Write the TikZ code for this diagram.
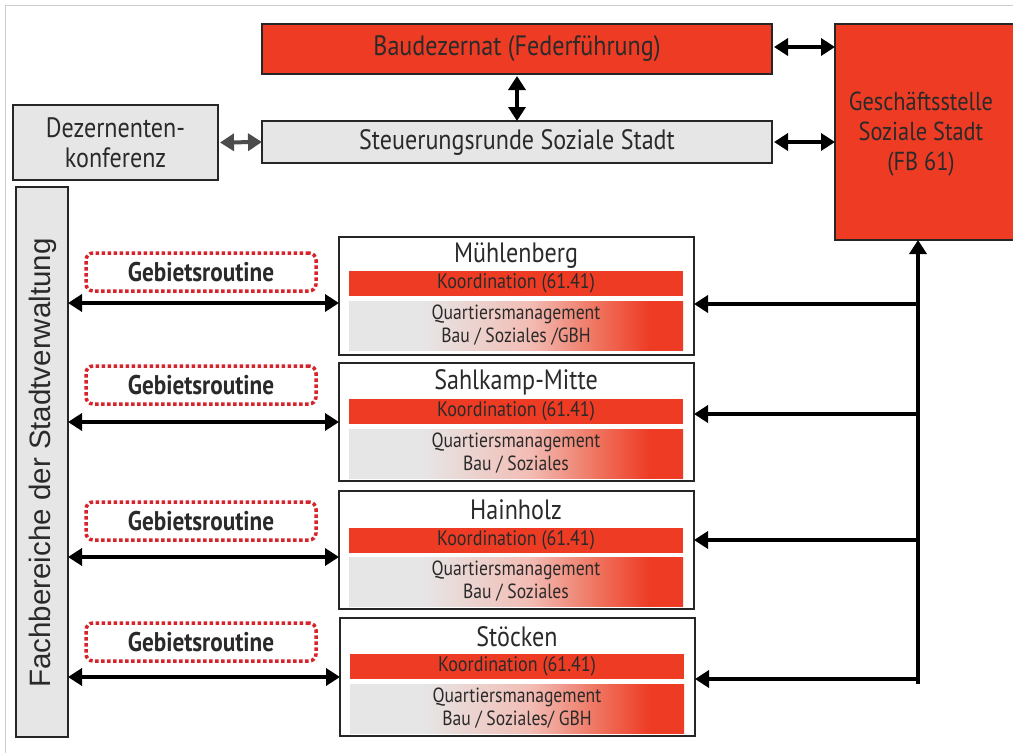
\documentclass[tikz,border=0pt]{standalone}
\usepackage{fontspec}
\setmainfont[FakeStretch=0.86]{PT Sans}
\newfontfamily\arialfont{Liberation Sans}
\usetikzlibrary{arrows.meta}
\definecolor{myred}{HTML}{EE3B24}
\definecolor{mygray}{HTML}{E6E6E6}
\definecolor{dotred}{HTML}{D8232A}
\definecolor{txt}{HTML}{2A2A2A}
\definecolor{pinkmid}{HTML}{F2BDB5}
\definecolor{redmid}{HTML}{EF7460}
\pgfdeclarehorizontalshading{qmshade}{100bp}{color(0bp)=(mygray); color(36bp)=(mygray); color(52bp)=(pinkmid); color(62bp)=(redmid); color(70bp)=(myred); color(100bp)=(myred)}
\tikzset{
  every node/.style={inner sep=0pt, outer sep=0pt, text=txt},
  redbox/.style={draw=black!85, line width=1.3pt, fill=myred},
  graybox/.style={draw=black!85, line width=1.3pt, fill=mygray},
  areabox/.style={draw=black!85, line width=1.8pt, fill=white},
  koord/.style={fill=myred, minimum width=334pt, minimum height=25pt, font=\fontsize{21}{23}\selectfont},
  qmbar/.style={shading=qmshade, minimum width=334pt, minimum height=49pt, align=center, font=\fontsize{20.5}{23}\selectfont},
  areatitle/.style={font=\fontsize{28}{30}\selectfont},
  gebiet/.style={draw=dotred, line width=3.5pt, dash pattern=on 3.5pt off 2.5pt, rounded corners=7pt, fill=white, minimum width=230pt, minimum height=38pt, font=\bfseries\fontsize{27}{30}\selectfont},
  arr/.style={line width=4pt, {Triangle[length=14pt,width=17pt]}-{Triangle[length=14pt,width=17pt]}},
  arrone/.style={line width=4pt, -{Triangle[length=14pt,width=17pt]}},
}
\begin{document}
\begin{tikzpicture}[x=1pt,y=-1pt]
\useasboundingbox (0,0) rectangle (1013,753);
\fill[white] (0,0) rectangle (1013,753);
\draw[black!20, line width=1pt] (5,753) -- (5,5) -- (1013,5);

% top boxes
\node[redbox, minimum width=510pt, minimum height=50pt, font=\fontsize{28}{30}\selectfont] (bau) at (517,49) {Baudezernat (Federführung)};
\node[redbox, anchor=north west, minimum width=182pt, minimum height=216pt] (gs) at (835,24) {};
\node[align=center, font=\fontsize{26}{30}\selectfont] (gstext) at (921,134) {Geschäftsstelle\\Soziale Stadt\\(FB 61)};
\node[graybox, minimum width=510pt, minimum height=42pt, font=\fontsize{28}{30}\selectfont] (steu) at (517,142) {Steuerungsrunde Soziale Stadt};
\node[graybox, minimum width=205pt, minimum height=75pt, align=center, font=\fontsize{28}{30}\selectfont] (dez) at (115.5,142.5) {Dezernenten-\\konferenz};
\node[graybox, minimum width=52pt, minimum height=550pt] (fb) at (42,462) {};
\node[rotate=90, font=\arialfont\fontsize{29.5}{30}\selectfont] (fbtext) at (43,463) {Fachbereiche der Stadtverwaltung};

% top connectors
\draw[arr] (bau.east) ++(2,-2) coordinate (b1) (b1) -- (b1 -| gs.west);
\draw[arr] (steu.east) ++(2,0) coordinate (s1) (s1) -- (s1 -| gs.west);
\draw[arr] (bau.south) ++(0,2) coordinate (b2) (b2) -- (steu.north);
\draw[arr, black!70] (dez.east) ++(2,0) coordinate (d1) (d1) -- (steu.west);

% area boxes
\node[areabox, anchor=north west, minimum width=355pt, minimum height=118pt] (a1) at (339,237) {};
\node[areatitle] (t1) at (516,256) {Mühlenberg};
\node[koord, anchor=north] (k1) at (516,271) {Koordination (61.41)};
\node[qmbar, anchor=north] (q1) at (516,301) {Quartiersmanagement\\Bau / Soziales /GBH};

\node[areabox, anchor=north west, minimum width=355pt, minimum height=118pt] (a2) at (339,363) {};
\node[areatitle] (t2) at (516,382) {Sahlkamp-Mitte};
\node[koord, anchor=north] (k2) at (516,399) {Koordination (61.41)};
\node[qmbar, anchor=north] (q2) at (516,429) {Quartiersmanagement\\Bau / Soziales};

\node[areabox, anchor=north west, minimum width=355pt, minimum height=118pt] (a3) at (339,491) {};
\node[areatitle] (t3) at (516,510) {Hainholz};
\node[koord, anchor=north] (k3) at (516,528) {Koordination (61.41)};
\node[qmbar, anchor=north] (q3) at (516,557) {Quartiersmanagement\\Bau / Soziales};

\node[areabox, anchor=north west, minimum width=355pt, minimum height=118pt] (a4) at (340,618) {};
\node[areatitle] (t4) at (517,637) {Stöcken};
\node[koord, anchor=north] (k4) at (517,654) {Koordination (61.41)};
\node[qmbar, anchor=north] (q4) at (517,684) {Quartiersmanagement\\Bau / Soziales/ GBH};

% Gebietsroutine boxes
\node[gebiet] (g1) at (201,272) {Gebietsroutine};
\node[gebiet] (g2) at (201,385) {Gebietsroutine};
\node[gebiet] (g3) at (201,521) {Gebietsroutine};
\node[gebiet] (g4) at (201,642) {Gebietsroutine};

% left double arrows
\draw[arr] (fb.east |- 0,303) coordinate (l1) (l1) -- (a1.west |- l1);
\draw[arr] (fb.east |- 0,422) coordinate (l2) (l2) -- (a2.west |- l2);
\draw[arr] (fb.east |- 0,557) coordinate (l3) (l3) -- (a3.west |- l3);
\draw[arr] (fb.east |- 0,677) coordinate (l4) (l4) -- (a4.west |- l4);

% right side
\coordinate (vb) at (918,684);
\draw[arrone] (vb) -- (vb |- gs.south);
\coordinate (j1) at (920,304);
\coordinate (j2) at (920,414);
\coordinate (j3) at (920,540);
\coordinate (j4) at (920,679);
\draw[arrone] (j1) -- (a1.east |- j1);
\draw[arrone] (j2) -- (a2.east |- j2);
\draw[arrone] (j3) -- (a3.east |- j3);
\draw[arrone] (j4) -- (a4.east |- j4);
\end{tikzpicture}
\end{document}
